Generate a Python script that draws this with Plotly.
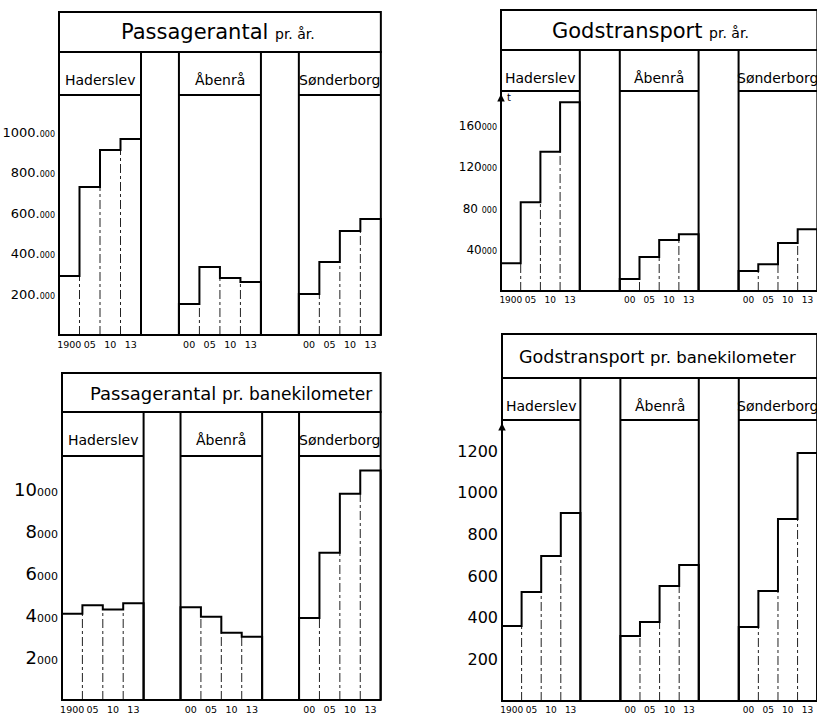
import plotly.graph_objects as go

W, H = 817, 717

# ---------------- data ----------------
towns = ["Haderslev", "Åbenrå", "Sønderborg"]
years_first = ["1900", "05", "10", "13"]
years_other = ["00", "05", "10", "13"]

titles_main = ["Passagerantal", "Godstransport", "Passagerantal", "Godstransport"]
titles_sub = ["pr. år.", "pr. år.", "pr. banekilometer", "pr. banekilometer"]

# values per town: Haderslev, Åbenrå, Sønderborg ; years 1900, 05, 10, 13
passagerer_aar = [[290000, 729000, 911000, 965000],
                  [153000, 335000, 281000, 261000],
                  [202000, 360000, 512000, 571000]]
gods_aar = [[27000, 86000, 135000, 183000],
            [11600, 33000, 49500, 55000],
            [19400, 26000, 46500, 60000]]
passagerer_km = [[4100, 4500, 4300, 4600],
                 [4400, 3950, 3200, 3000],
                 [3900, 7000, 9800, 10900]]
gods_km = [[360, 523, 696, 902],
           [312, 379, 552, 653],
           [355, 528, 874, 1190]]

ticks_pas_aar = [200000, 400000, 600000, 800000, 1000000]
labels_pas_aar = ["200.000", "400.000", "600.000", "800.000", "1000.000"]
ticks_gods_aar = [40000, 80000, 120000, 160000]
labels_gods_aar = ["40000", "80 000", "120000", "160000"]
ticks_pas_km = [2000, 4000, 6000, 8000, 10000]
labels_pas_km = ["2000", "4000", "6000", "8000", "10000"]
ticks_gods_km = [200, 400, 600, 800, 1000, 1200]
labels_gods_km = ["200", "400", "600", "800", "1000", "1200"]

# ---------------- layout geometry (page pixels) ----------------
panels = [
    dict(values=passagerer_aar, ticks=ticks_pas_aar, labels=labels_pas_aar,
         big=13, small=8, title_size=21, sub_size=14, title_dx=-2, xfont=9.5,
         xL=59, ux=20.5, gap=1.85, yB=335, yT=12, yTB=52, yHB=95,
         s=4925, title_y=32, label_y=80, arrow=None),
    dict(values=gods_aar, ticks=ticks_gods_aar, labels=labels_gods_aar,
         big=12, small=8, title_size=21, sub_size=14, title_dx=-9, xfont=9,
         xL=501, ux=19.7, gap=2.03, yB=291, yT=10, yTB=50, yHB=91,
         s=970, title_y=31, label_y=78, arrow="t"),
    dict(values=passagerer_km, ticks=ticks_pas_km, labels=labels_pas_km,
         big=18, small=11, title_size=18, sub_size=17, title_dx=10, xfont=9.5,
         xL=62, ux=20.4, gap=1.81, yB=700, yT=373, yTB=412, yHB=456,
         s=47.5, title_y=393, label_y=440, arrow=None),
    dict(values=gods_km, ticks=ticks_gods_km, labels=labels_gods_km,
         big=16, small=None, title_size=17.5, sub_size=16.5, title_dx=-2, xfont=9,
         xL=502, ux=19.6, gap=2.04, yB=701, yT=334, yTB=378, yHB=420,
         s=4.8, title_y=357, label_y=406, arrow=""),
]

FONT = "DejaVu Sans"
PAD = 3
PADB = 2

fig = go.Figure()
shapes = []
annotations = []
layout_axes = {}

for k, p in enumerate(panels):
    n = "" if k == 0 else str(k + 1)
    xa, ya = "x" + n, "y" + n
    s, yB, xL = p["s"], p["yB"], p["xL"]

    def v(ypx, s=s, yB=yB):
        return (yB - ypx) * s

    g = p["gap"]
    total = 12 + 2 * g
    starts = [0, 4 + g, 8 + 2 * g]

    # bar outlines (step line) and thin interior separators
    sx, sy, dx, dy = [], [], [], []
    centers, ticktext = [], []
    for t, (c0, vals) in enumerate(zip(starts, p["values"])):
        sx.append(c0); sy.append(0)
        for i, val in enumerate(vals):
            sx += [c0 + i, c0 + i + 1]
            sy += [val, val]
            centers.append(c0 + i + 0.5)
        sx += [c0 + 4, None]; sy += [0, None]
        for i in range(1, 4):
            dx += [c0 + i, c0 + i, None]
            dy += [0, min(vals[i - 1], vals[i]), None]
        ticktext += years_first if t == 0 else years_other

    fig.add_trace(go.Scatter(x=dx, y=dy, mode="lines", xaxis=xa, yaxis=ya,
                             line=dict(color="#222", width=1, dash="dashdot"),
                             hoverinfo="skip", showlegend=False))
    fig.add_trace(go.Scatter(x=sx, y=sy, mode="lines", xaxis=xa, yaxis=ya,
                             line=dict(color="black", width=2),
                             hoverinfo="skip", showlegend=False))

    # frames
    line = dict(color="black", width=2)
    shapes.append(dict(type="rect", xref=xa, yref=ya, x0=0, x1=total,
                       y0=v(p["yTB"]), y1=v(p["yT"]), line=line))
    for c0 in starts:
        shapes.append(dict(type="rect", xref=xa, yref=ya, x0=c0, x1=c0 + 4,
                           y0=0, y1=v(p["yTB"]), line=line))
        shapes.append(dict(type="line", xref=xa, yref=ya, x0=c0, x1=c0 + 4,
                           y0=v(p["yHB"]), y1=v(p["yHB"]), line=line))
    shapes.append(dict(type="line", xref=xa, yref=ya, x0=0, x1=total,
                       y0=0, y1=0, line=line))

    # titles and town labels
    xdom1 = min(1.0, (xL + total * p["ux"] + PAD) / W)
    vis_right = (xdom1 * W - xL) / p["ux"]
    annotations.append(dict(
        xref=xa, yref=ya, x=min(total, vis_right) / 2 + p["title_dx"] / p["ux"],
        y=v(p["title_y"]),
        text=f"{titles_main[k]} <span style='font-size:{p['sub_size']}px'>{titles_sub[k]}</span>",
        showarrow=False, xanchor="center", yanchor="middle",
        font=dict(family=FONT, size=p["title_size"], color="black")))
    for c0, town in zip(starts, towns):
        annotations.append(dict(
            xref=xa, yref=ya, x=c0 + 2, y=v(p["label_y"]), text=town,
            showarrow=False, xanchor="center", yanchor="middle",
            font=dict(family=FONT, size=14, color="black")))

    if p["arrow"] is not None:
        annotations.append(dict(xref=xa, yref=ya, x=0, y=v(p["yHB"] + 3), text="",
                                showarrow=True, arrowhead=2, arrowsize=1,
                                arrowwidth=1.5, arrowcolor="black", ax=0, ay=10,
                                standoff=0))
        if p["arrow"]:
            annotations.append(dict(xref=xa, yref=ya, x=8 / p["ux"], y=v(p["yHB"] + 7),
                                    text=p["arrow"], showarrow=False,
                                    font=dict(family=FONT, size=10, color="black")))

    # y tick labels
    if p["small"]:
        ytext = [f"{lab[:-3]}<span style='font-size:{p['small']}px'>{lab[-3:]}</span>"
                 for lab in p["labels"]]
    else:
        ytext = p["labels"]

    top_f = max(0.0, p["yT"] - PAD)          # px of the subplot top
    xdom = [(xL - PAD) / W, xdom1]
    ydom = [(H - (yB + PADB)) / H, (H - top_f) / H]
    layout_axes["xaxis" + n] = dict(
        domain=xdom, range=[-PAD / p["ux"], vis_right], anchor=ya,
        showgrid=False, zeroline=False, showline=False, ticks="",
        tickvals=centers, ticktext=ticktext, tickangle=0,
        tickfont=dict(family=FONT, size=p["xfont"], color="black"), fixedrange=True)
    layout_axes["yaxis" + n] = dict(
        domain=ydom, range=[-PADB * s, (yB - top_f) * s], anchor=xa,
        showgrid=False, zeroline=False, showline=False, ticks="",
        tickvals=p["ticks"], ticktext=ytext,
        tickfont=dict(family=FONT, size=p["big"], color="black"), fixedrange=True)

fig.update_layout(
    width=W, height=H, margin=dict(l=0, r=0, t=0, b=0),
    paper_bgcolor="white", plot_bgcolor="white", showlegend=False,
    shapes=shapes, annotations=annotations, **layout_axes)

fig.write_html("out.html", config={"staticPlot": True},
               post_script="document.body.style.margin='0';")
